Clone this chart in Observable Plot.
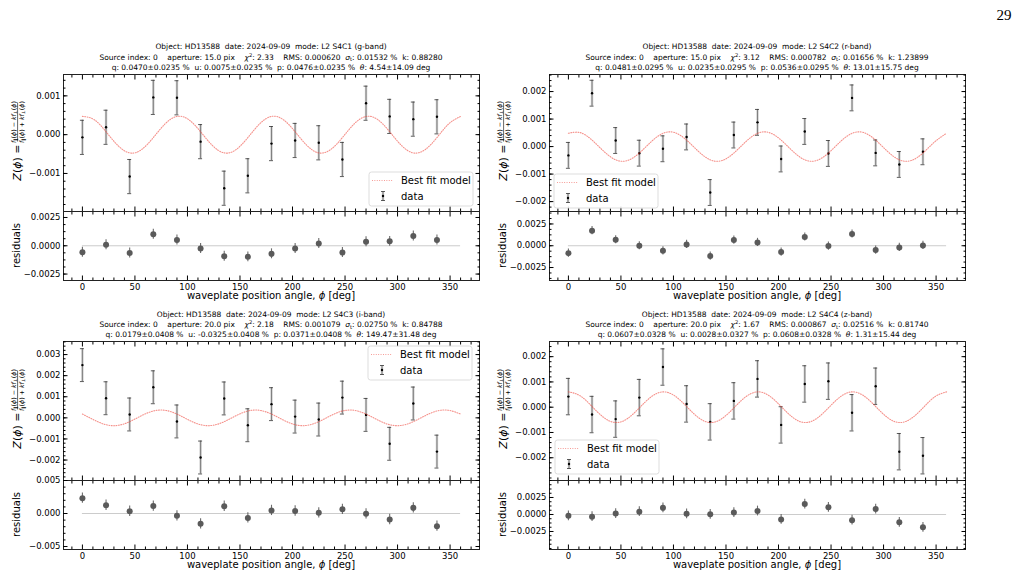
<!DOCTYPE html>
<html>
<head>
<meta charset="utf-8">
<script src="https://cdn.jsdelivr.net/npm/d3@7"></script>
<script src="https://cdn.jsdelivr.net/npm/@observablehq/plot@0.6"></script>
<style>
html,body{margin:0;padding:0;background:#fff;}
#root{position:relative;width:1024px;height:579px;overflow:hidden;background:#fff;}
#root > svg{position:absolute;}
</style>
</head>
<body>
<div id="root"></div>
<script>
// ---------------- data ----------------
const angles = [0, 22.5, 45, 67.5, 90, 112.5, 135, 157.5, 180, 202.5, 225, 247.5, 270, 292.5, 315, 337.5];
const modelAngles = [0, 11.25, 22.5, 33.75, 45, 56.25, 67.5, 78.75, 90, 101.25, 112.5, 123.75, 135, 146.25, 157.5, 168.75,
  180, 191.25, 202.5, 213.75, 225, 236.25, 247.5, 258.75, 270, 281.25, 292.5, 303.75, 315, 326.25, 337.5, 348.75, 360];

// g-band (S4C1)
const zG = [-0.00007, 0.00019, -0.00108, 0.00096, 0.00095, -0.00018, -0.00138, -0.00106, -0.00023, -0.00015, -0.00021, -0.00064, 0.00081, 0.00047, 0.00040, 0.00046];
const resG = [-0.00057, 0.00009, -0.00063, 0.00101, 0.00051, -0.00024, -0.00092, -0.00098, -0.00071, -0.00024, 0.00021, -0.00060, 0.00036, 0.00039, 0.00086, 0.00051];
const modelG = [0.00047, 0.000386, 0.000075, -0.000279, -0.00047, -0.000386, -0.000075, 0.000279,
  0.00047, 0.000386, 0.000075, -0.000279, -0.00047, -0.000386, -0.000075, 0.000279,
  0.00047, 0.000386, 0.000075, -0.000279, -0.00047, -0.000386, -0.000075, 0.000279,
  0.00047, 0.000386, 0.000075, -0.000279, -0.00047, -0.000386, -0.000075, 0.000279, 0.00047];
const errG = 0.00044;

// r-band (S4C2)
const zR = [-0.00032, 0.00194, 0.00022, -0.00024, -0.00008, 0.00035, -0.00167, 0.00042, 0.00088, -0.00045, 0.00055, -0.00025, 0.00177, -0.00023, -0.00065, -0.00019];
const resR = [-0.00085, 0.00173, 0.00069, 0.0, -0.00058, 0.00015, -0.00119, 0.00065, 0.00038, -0.00073, 0.00100, -0.00004, 0.00135, -0.00050, -0.00019, 0.00004];
const modelR = [0.000482, 0.000507, 0.000235, -0.000174, -0.000482, -0.000507, -0.000235, 0.000174,
  0.000482, 0.000507, 0.000235, -0.000174, -0.000482, -0.000507, -0.000235, 0.000174,
  0.000482, 0.000507, 0.000235, -0.000174, -0.000482, -0.000507, -0.000235, 0.000174,
  0.000482, 0.000507, 0.000235, -0.000174, -0.000482, -0.000507, -0.000235, 0.000174, 0.000482];
const errR = 0.00047;

// i-band (S4C3)
const zI = [0.00250, 0.00093, 0.00016, 0.00145, -0.00017, -0.00188, 0.00092, -0.00035, 0.00065, 0.00006, -0.00008, 0.00096, 0.00014, -0.00123, 0.00068, -0.00160];
const resI = [0.00232, 0.00125, 0.00034, 0.00113, -0.00035, -0.00156, 0.00110, -0.00067, 0.00047, 0.00038, 0.00010, 0.00064, -0.00004, -0.00091, 0.00086, -0.00192];
const modelI = [0.00018, -0.000103, -0.000325, -0.000357, -0.00018, 0.000103, 0.000325, 0.000357,
  0.00018, -0.000103, -0.000325, -0.000357, -0.00018, 0.000103, 0.000325, 0.000357,
  0.00018, -0.000103, -0.000325, -0.000357, -0.00018, 0.000103, 0.000325, 0.000357,
  0.00018, -0.000103, -0.000325, -0.000357, -0.00018, 0.000103, 0.000325, 0.000357, 0.00018];
const errI = 0.00078;

// z-band (S4C4)
const zZ = [0.00042, -0.00029, -0.00047, 0.00038, 0.00159, 0.00013, -0.00058, 0.00025, 0.00112, -0.00070, 0.00092, 0.00103, -0.00022, 0.00083, -0.00176, -0.00192];
const resZ = [-0.00019, -0.00032, 0.00014, 0.00041, 0.00098, 0.00010, 0.00003, 0.00028, 0.00051, -0.00073, 0.00153, 0.00106, -0.00083, 0.00080, -0.00115, -0.00189];
const modelZ = [0.000607, 0.000449, 0.000028, -0.00041, -0.000607, -0.000449, -0.000028, 0.00041,
  0.000607, 0.000449, 0.000028, -0.00041, -0.000607, -0.000449, -0.000028, 0.00041,
  0.000607, 0.000449, 0.000028, -0.00041, -0.000607, -0.000449, -0.000028, 0.00041,
  0.000607, 0.000449, 0.000028, -0.00041, -0.000607, -0.000449, -0.000028, 0.00041, 0.000607];
const errZ = 0.00072;

// tick values
const xMajor = [0, 50, 100, 150, 200, 250, 300, 350];
const xMinor = [-10, 10, 20, 30, 40, 60, 70, 80, 90, 110, 120, 130, 140, 160, 170, 180, 190, 210, 220, 230, 240, 260, 270, 280, 290, 310, 320, 330, 340, 360, 370];
const mainTicksG = [-0.001, 0, 0.001];
const mainTicksR = [-0.002, -0.001, 0, 0.001, 0.002];
const mainTicksI = [-0.002, -0.001, 0, 0.001, 0.002, 0.003];
const mainTicksZ = [-0.002, -0.001, 0, 0.001, 0.002];
const resTicksG = [-0.0025, 0, 0.0025];
const resTicksR = [-0.0025, 0, 0.0025];
const resTicksI = [-0.005, 0, 0.005];
const resTicksZ = [-0.0025, 0, 0.0025];

// title texts
const modeLine = ["Object: HD13588  date: 2024-09-09  mode: L2 S4C1 (g-band)",
                  "Object: HD13588  date: 2024-09-09  mode: L2 S4C2 (r-band)",
                  "Object: HD13588  date: 2024-09-09  mode: L2 S4C3 (i-band)",
                  "Object: HD13588  date: 2024-09-09  mode: L2 S4C4 (z-band)"];
const apertures = ["15.0", "15.0", "20.0", "20.0"];
const chi2 = ["2.33", "3.12", "2.18", "1.67"];
const rms = ["0.000620", "0.000782", "0.001079", "0.000867"];
const sigmaT = ["0.01532", "0.01656", "0.02750", "0.02516"];
const kFactor = ["0.88280", "1.23899", "0.84788", "0.81740"];
const qFit = ["0.0470±0.0235", "0.0481±0.0295", "0.0179±0.0408", "0.0607±0.0328"];
const uFit = ["0.0075±0.0235", "0.0235±0.0295", "-0.0325±0.0408", "0.0028±0.0327"];
const pFit = ["0.0476±0.0235", "0.0536±0.0295", "0.0371±0.0408", "0.0608±0.0328"];
const thetaFit = ["4.54±14.09", "13.01±15.75", "149.47±31.48", "1.31±15.44"];
const legendLabels = ["Best fit model", "data"];
const xLabel = "waveplate position angle, ";
const pageNumber = "29";

// ---------------- layout ----------------
const FRAME_LEFT = 63, FRAME_W = 416, COL_DX = 486;
const rows = [
  {mainTop: 74, mainBottom: 211, resBottom: 280, titleY: [48.5, 59.5, 70.2]},
  {mainTop: 341, mainBottom: 480, resBottom: 549, titleY: [317, 327.2, 337.3]}
];
const panels = [
  {col: 0, row: 0, z: zG, res: resG, model: modelG, err: errG, mainDomain: [-0.00198, 0.00155], resDomain: [-0.00307, 0.00303],
   mainTicks: mainTicksG, resTicks: resTicksG, resFmt: ".4f", resMinorStep: 0.000625, legend: {x: 369, y: 172}},
  {col: 1, row: 0, z: zR, res: resR, model: modelR, err: errR, mainDomain: [-0.00236, 0.00262], resDomain: [-0.00399, 0.00393],
   mainTicks: mainTicksR, resTicks: resTicksR, resFmt: ".4f", resMinorStep: 0.000625, legend: {x: 554, y: 174}},
  {col: 0, row: 1, z: zI, res: resI, model: modelI, err: errI, mainDomain: [-0.00297, 0.00362], resDomain: [-0.00545, 0.0050],
   mainTicks: mainTicksI, resTicks: resTicksI, resFmt: ".3f", resMinorStep: 0.001, legend: {x: 368, y: 346}},
  {col: 1, row: 1, z: zZ, res: resZ, model: modelZ, err: errZ, mainDomain: [-0.0029, 0.0026], resDomain: [-0.00515, 0.0050],
   mainTicks: mainTicksZ, resTicks: resTicksZ, resFmt: ".4f", resMinorStep: 0.000625, legend: {x: 555, y: 440}}
];

const root = document.getElementById("root");
const MODEL_COLOR = "#ef4a40";
const MODEL_OPACITY = 0.6;
const MODEL_DASH = "0.9 1.5";
const blank = () => "";

function minorTicks(domain, step) {
  return d3.range(Math.ceil(domain[0] / step), Math.floor(domain[1] / step) + 1).map(k => +(k * step).toFixed(7));
}

function axesMarks(yTicks, yMinor, yFmt, xLabels) {
  const o = {label: null};
  return [
    Plot.axisX(xMinor, {anchor: "bottom", tickSize: -2.5, tickFormat: blank, ...o}),
    Plot.axisX(xMinor, {anchor: "top", tickSize: -2.5, tickFormat: blank, ...o}),
    Plot.axisY(yMinor, {anchor: "left", tickSize: -2.5, tickFormat: blank, ...o}),
    Plot.axisY(yMinor, {anchor: "right", tickSize: -2.5, tickFormat: blank, ...o}),
    Plot.axisX(xMajor, {anchor: "bottom", tickSize: -4.5, tickPadding: 8, tickFormat: xLabels ? d3.format("d") : blank, ...o}),
    Plot.axisX(xMajor, {anchor: "top", tickSize: -4.5, tickFormat: blank, ...o}),
    Plot.axisY(yTicks, {anchor: "left", tickSize: -4.5, tickPadding: 7.5, tickFormat: d3.format(yFmt), ...o}),
    Plot.axisY(yTicks, {anchor: "right", tickSize: -4.5, tickFormat: blank, ...o})
  ];
}

function place(svg, left, top) {
  svg.style.left = left + "px";
  svg.style.top = top + "px";
  root.appendChild(svg);
}

const M = {l: 50, r: 8, t: 8};
const plotStyle = {fontFamily: "'DejaVu Sans', sans-serif", fontSize: "8.5px", background: "transparent", color: "#000", overflow: "visible"};

panels.forEach(p => {
  const R = rows[p.row];
  const left = FRAME_LEFT + p.col * COL_DX;
  const dataRows = angles.map((phi, i) => ({phi, z: p.z[i], lo: p.z[i] - p.err, hi: p.z[i] + p.err}));
  const resRows = angles.map((phi, i) => ({phi, z: p.res[i], lo: p.res[i] - p.err, hi: p.res[i] + p.err}));
  const modelRows = modelAngles.map((phi, i) => ({phi, z: p.model[i]}));
  const zeroLine = [{x1: modelAngles[0], x2: modelAngles[modelAngles.length - 1], y: 0}];

  // main panel
  const mainH = R.mainBottom - R.mainTop;
  const mainSvg = Plot.plot({
    width: FRAME_W + M.l + M.r, height: mainH + M.t + 8,
    marginLeft: M.l, marginRight: M.r, marginTop: M.t, marginBottom: 8,
    x: {domain: [-18, 378]}, y: {domain: p.mainDomain},
    style: plotStyle,
    marks: [
      Plot.ruleX(dataRows, {x: "phi", y1: "lo", y2: "hi", stroke: "#cfcfcf", strokeWidth: 2.4}),
      Plot.ruleX(dataRows, {x: "phi", y1: "lo", y2: "hi", stroke: "#4a4a4a", strokeWidth: 0.6}),
      Plot.ruleY(dataRows, {y: "hi", x1: "phi", x2: "phi", insetLeft: -2, insetRight: -2, stroke: "#333", strokeWidth: 0.8}),
      Plot.ruleY(dataRows, {y: "lo", x1: "phi", x2: "phi", insetLeft: -2, insetRight: -2, stroke: "#333", strokeWidth: 0.8}),
      Plot.dot(dataRows, {x: "phi", y: "z", r: 1.2, fill: "#000", stroke: null}),
      Plot.line(modelRows, {x: "phi", y: "z", curve: "natural", stroke: MODEL_COLOR, strokeOpacity: MODEL_OPACITY, strokeWidth: 1.1, strokeDasharray: MODEL_DASH}),
      Plot.frame({stroke: "#222", strokeWidth: 1}),
      ...axesMarks(p.mainTicks, minorTicks(p.mainDomain, 0.0002), ".3f", false)
    ]
  });
  place(mainSvg, left - M.l, R.mainTop - M.t);

  // residual panel
  const resH = R.resBottom - R.mainBottom;
  const resSvg = Plot.plot({
    width: FRAME_W + M.l + M.r, height: resH + M.t + 20,
    marginLeft: M.l, marginRight: M.r, marginTop: M.t, marginBottom: 20,
    x: {domain: [-18, 378]}, y: {domain: p.resDomain},
    style: plotStyle,
    marks: [
      Plot.ruleY(zeroLine, {y: "y", x1: "x1", x2: "x2", stroke: "#cccccc", strokeWidth: 1}),
      Plot.ruleX(resRows, {x: "phi", y1: "lo", y2: "hi", stroke: "#5c5c5c", strokeWidth: 1.1, strokeOpacity: 0.9}),
      Plot.dot(resRows, {x: "phi", y: "z", r: 3, fill: "#5a5a5a", stroke: null}),
      Plot.frame({stroke: "#222", strokeWidth: 1}),
      ...axesMarks(p.resTicks, minorTicks(p.resDomain, p.resMinorStep), p.resFmt, true)
    ]
  });
  place(resSvg, left - M.l, R.mainBottom - M.t);
});

// ---------------- overlay text (titles, labels, legends) ----------------
const ov = d3.select(root).append("svg")
  .attr("width", 1024).attr("height", 579)
  .style("left", "0px").style("top", "0px")
  .attr("font-family", "'DejaVu Sans', sans-serif")
  .attr("fill", "#000");

panels.forEach((p, i) => {
  const R = rows[p.row];
  const dx = p.col * COL_DX;
  const cx = FRAME_LEFT + FRAME_W / 2 + dx;
  const fs = 7.5;

  // titles
  ov.append("text").attr("x", cx).attr("y", R.titleY[0]).attr("text-anchor", "middle")
    .attr("font-size", fs).style("white-space", "pre").text(modeLine[i]);
  const t2 = ov.append("text").attr("x", cx).attr("y", R.titleY[1]).attr("text-anchor", "middle")
    .attr("font-size", fs).style("white-space", "pre");
  t2.append("tspan").text(`Source index: 0    aperture: ${apertures[i]} pix    `);
  t2.append("tspan").attr("font-style", "italic").text("χ");
  t2.append("tspan").attr("dy", -3).attr("font-size", 5.2).text("2");
  t2.append("tspan").attr("dy", 3).text(`: ${chi2[i]}    RMS: ${rms[i]}  `);
  t2.append("tspan").attr("font-style", "italic").text("σ");
  t2.append("tspan").attr("dy", 1.6).attr("font-size", 5.2).text("t");
  t2.append("tspan").attr("dy", -1.6).text(`: ${sigmaT[i]} %  k: ${kFactor[i]}`);
  const t3 = ov.append("text").attr("x", cx).attr("y", R.titleY[2]).attr("text-anchor", "middle")
    .attr("font-size", fs).style("white-space", "pre");
  t3.append("tspan").text(`q: ${qFit[i]} %  u: ${uFit[i]} %  p: ${pFit[i]} %  `);
  t3.append("tspan").attr("font-style", "italic").text("θ");
  t3.append("tspan").text(`: ${thetaFit[i]} deg`);

  // main y label: Z(phi) = fraction
  const cy = (R.mainTop + R.mainBottom) / 2;
  const g = ov.append("g").attr("transform", `translate(${dx},${cy}) rotate(-90)`);
  const big = g.append("text").attr("x", -2).attr("y", 20.5).attr("text-anchor", "end").attr("font-size", 11).style("white-space", "pre");
  big.append("tspan").attr("font-style", "italic").text("Z");
  big.append("tspan").text("(");
  big.append("tspan").attr("font-style", "italic").text("ϕ");
  big.append("tspan").text(") =");
  g.append("line").attr("x1", 1).attr("x2", 40).attr("y1", 17.6).attr("y2", 17.6).attr("stroke", "#000").attr("stroke-width", 0.6);
  function fracPart(y, sign) {
    const t = g.append("text").attr("x", 20.5).attr("y", y).attr("text-anchor", "middle").attr("font-size", 6.3).style("white-space", "pre");
    t.append("tspan").attr("font-style", "italic").text("f");
    t.append("tspan").attr("font-size", 4.6).attr("dy", 1).text("∥");
    t.append("tspan").attr("dy", -1).text("(");
    t.append("tspan").attr("font-style", "italic").text("ϕ");
    t.append("tspan").text(`) ${sign} `);
    t.append("tspan").attr("font-style", "italic").text("kf");
    t.append("tspan").attr("font-size", 4.6).attr("dy", 1).text("⊥");
    t.append("tspan").attr("dy", -1).text("(");
    t.append("tspan").attr("font-style", "italic").text("ϕ");
    t.append("tspan").text(")");
  }
  fracPart(15.8, "−");
  fracPart(23.6, "+");

  // residual y label
  const ry = (R.mainBottom + R.resBottom) / 2;
  ov.append("text").attr("transform", `translate(${dx + 19.5},${ry}) rotate(-90)`)
    .attr("text-anchor", "middle").attr("font-size", 10).text("residuals");

  // x label
  const xl = ov.append("text").attr("x", cx).attr("y", R.resBottom + 19.3).attr("text-anchor", "middle").attr("font-size", 10).style("white-space", "pre");
  xl.append("tspan").text(xLabel);
  xl.append("tspan").attr("font-style", "italic").text("ϕ");
  xl.append("tspan").text(" [deg]");

  // legend
  const L = p.legend;
  const lg = ov.append("g").attr("transform", `translate(${L.x},${L.y})`);
  lg.append("rect").attr("x", 0).attr("y", 0).attr("width", 104).attr("height", 34).attr("rx", 2.5)
    .attr("fill", "#fff").attr("fill-opacity", 0.85).attr("stroke", "#d4d4d4").attr("stroke-width", 0.8);
  lg.append("line").attr("x1", 3).attr("x2", 24).attr("y1", 8.5).attr("y2", 8.5)
    .attr("stroke", MODEL_COLOR).attr("stroke-opacity", MODEL_OPACITY).attr("stroke-width", 1.1).attr("stroke-dasharray", MODEL_DASH);
  lg.append("text").attr("x", 32).attr("y", 12).attr("font-size", 10).text(legendLabels[0]);
  lg.append("line").attr("x1", 14).attr("x2", 14).attr("y1", 19.5).attr("y2", 28.5).attr("stroke", "#cfcfcf").attr("stroke-width", 2.4);
  lg.append("line").attr("x1", 14).attr("x2", 14).attr("y1", 19.5).attr("y2", 28.5).attr("stroke", "#4a4a4a").attr("stroke-width", 0.6);
  lg.append("line").attr("x1", 12).attr("x2", 16).attr("y1", 19.5).attr("y2", 19.5).attr("stroke", "#333").attr("stroke-width", 0.8);
  lg.append("line").attr("x1", 12).attr("x2", 16).attr("y1", 28.5).attr("y2", 28.5).attr("stroke", "#333").attr("stroke-width", 0.8);
  lg.append("circle").attr("cx", 14).attr("cy", 24).attr("r", 1.2).attr("fill", "#000");
  lg.append("text").attr("x", 32).attr("y", 27.5).attr("font-size", 10).text(legendLabels[1]);
});

// page number
ov.append("text").attr("x", 1004).attr("y", 20).attr("text-anchor", "middle")
  .attr("font-family", "'Liberation Serif', 'DejaVu Serif', serif").attr("font-size", 15).text(pageNumber);
</script>
</body>
</html>
